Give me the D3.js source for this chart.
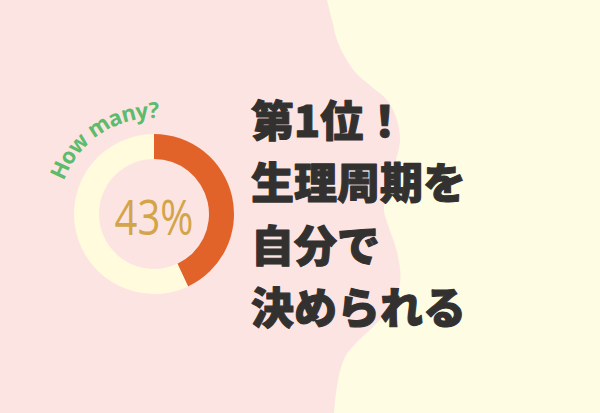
<!DOCTYPE html>
<html><head><meta charset="utf-8">
<script src="https://cdn.jsdelivr.net/npm/d3@7"></script>
<style>html,body{margin:0;padding:0;overflow:hidden;background:#fefce3}</style>
</head><body>
<svg id="c" width="600" height="413"></svg>
<script>
const categories = ["決められる", "その他"];
const values = [43, 57];
const centerLabel = "43%";
const question = "How many?";
const headline = ["第1位！", "生理周期を", "自分で", "決められる"];

const W = 600, H = 413;
const svg = d3.select("#c");
svg.append("rect").attr("width", W).attr("height", H).attr("fill", "#fefce3");

// wavy pink background on the left
const wave = [[327,0],[332,20],[337,40],[345,57],[356,73],[372,87],[387,100],[396,117],[400,140],[394,167],[387,193],[384,210],[388,225],[397,252],[400,283],[388,310],[373,327],[358,341],[345,357],[338,380],[334,413]];
const waveLine = d3.line().curve(d3.curveCatmullRom.alpha(0.5));
const edge = waveLine(wave);
svg.append("path")
  .attr("d", "M0,0L" + edge.slice(1) + "L0," + H + "Z")
  .attr("fill", "#fce4e3");

const cx = 154, cy = 214, rOuter = 80, rInner = 55;
const g = svg.append("g").attr("transform", `translate(${cx},${cy})`);
const pie = d3.pie().sort(null).value(d => d);
const arc = d3.arc().innerRadius(rInner).outerRadius(rOuter);
const color = d3.scaleOrdinal().domain(categories).range(["#e2632a", "#fffbdc"]);
g.selectAll("path.slice").data(pie(values)).join("path")
  .attr("class", "slice")
  .attr("d", arc)
  .attr("fill", (d, i) => color(categories[i]));

g.append("text").text(centerLabel)
  .attr("text-anchor", "middle").attr("dominant-baseline", "central")
  .attr("transform", "translate(0,2) scale(0.8,1)")
  .attr("font-family", "'Open Sans', sans-serif").attr("font-weight", 400)
  .attr("font-size", 50).attr("fill", "#d3a44a");

// curved "How many?"
const tr = 96;
const a0 = -70 * Math.PI / 180, a1 = 4 * Math.PI / 180;
const p0 = [tr * Math.sin(a0), -tr * Math.cos(a0)];
const p1 = [tr * Math.sin(a1), -tr * Math.cos(a1)];
g.append("path").attr("id", "qpath")
  .attr("d", `M${p0[0]},${p0[1]} A${tr},${tr} 0 0 1 ${p1[0]},${p1[1]}`)
  .attr("fill", "none");
g.append("text")
  .attr("font-family", "'Open Sans', sans-serif").attr("font-weight", 700)
  .attr("font-size", 22).attr("fill", "#5dbb6c")
  .append("textPath").attr("href", "#qpath")
  .attr("textLength", 122).attr("lengthAdjust", "spacing")
  .text(question);

// headline
const lineY = d3.scalePoint().domain(d3.range(headline.length)).range([118, 305]);
svg.append("g").selectAll("text").data(headline).join("text")
  .attr("x", 251).attr("y", (d, i) => lineY(i))
  .attr("dominant-baseline", "central")
  .attr("font-family", "'Noto Sans CJK JP', sans-serif").attr("font-weight", 900)
  .attr("font-size", 43).attr("fill", "#333130")
  .attr("stroke", "#333130").attr("stroke-width", 1.1).attr("stroke-linejoin", "round")
  .text(d => d);
</script>
</body></html>
